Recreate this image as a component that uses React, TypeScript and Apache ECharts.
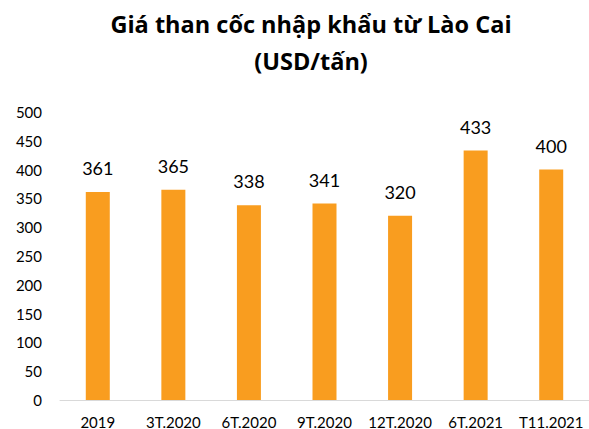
import React, { useEffect, useRef } from "react";
import * as echarts from "echarts";

const categories = ["2019", "3T.2020", "6T.2020", "9T.2020", "12T.2020", "6T.2021", "T11.2021"];
const prices = [361, 365, 338, 341, 320, 433, 400];

export default function App() {
  const ref = useRef<HTMLDivElement>(null);
  useEffect(() => {
    if (!ref.current) return;
    const chart = echarts.init(ref.current, null, { renderer: "svg" });
    chart.setOption({
      animation: false,
      backgroundColor: "#ffffff",
      title: {
        text: "Giá than cốc nhập khẩu từ Lào Cai\n(USD/tấn)",
        left: 306,
        textAlign: "center",
        top: 0,
        textStyle: {
          fontFamily: "Open Sans",
          fontWeight: "bold",
          fontSize: 23.5,
          lineHeight: 37,
          color: "#000000",
        },
      },
      grid: { left: 60, right: 0, top: 112, bottom: 29, containLabel: false },
      xAxis: {
        type: "category",
        data: categories,
        axisLine: { show: true, lineStyle: { color: "#d9d9d9", width: 1 } },
        axisTick: { show: false },
        axisLabel: { interval: 0, fontFamily: "Lato", fontSize: 15, color: "#000000", margin: 14 },
      },
      yAxis: {
        type: "value",
        min: 0,
        max: 500,
        interval: 50,
        splitLine: { show: false },
        axisLine: { show: false },
        axisTick: { show: false },
        axisLabel: { fontFamily: "Lato", fontSize: 15, color: "#000000", margin: 18 },
      },
      series: [
        {
          type: "bar",
          data: prices,
          barWidth: 24,
          itemStyle: { color: "#F99D1F" },
          label: {
            show: true,
            position: "top",
            distance: 15,
            fontFamily: "Lato",
            fontSize: 18,
            color: "#000000",
          },
        },
      ],
    });
    return () => chart.dispose();
  }, []);
  return <div ref={ref} style={{ width: 589, height: 429, position: "fixed", left: 0, top: 0 }} />;
}
